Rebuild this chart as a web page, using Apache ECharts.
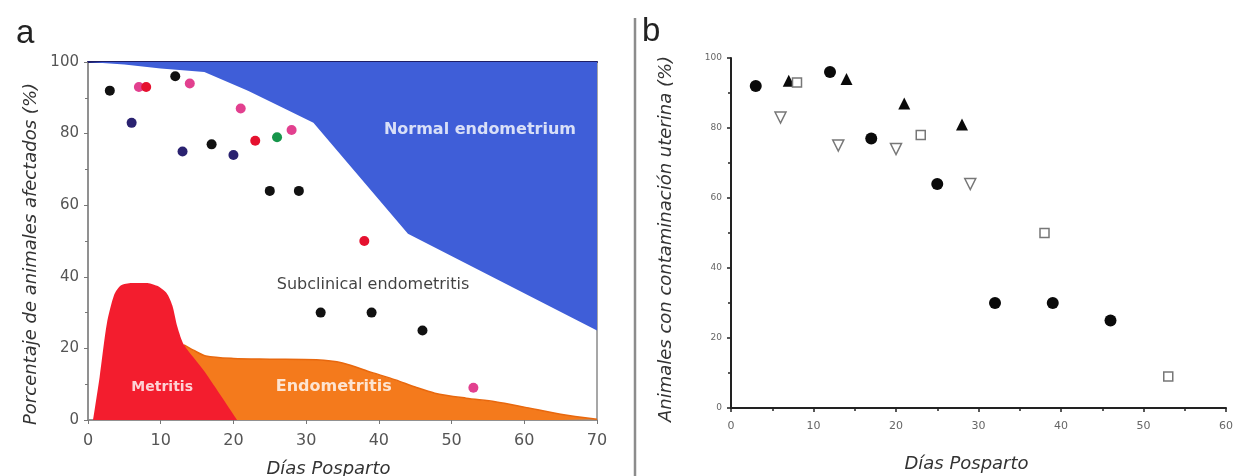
<!DOCTYPE html>
<html>
<head>
<meta charset="utf-8">
<script src="https://cdn.jsdelivr.net/npm/echarts@6/dist/echarts.min.js"></script>
<style>
html,body{margin:0;padding:0;background:#fff;}
#c{width:1239px;height:476px;}
</style>
</head>
<body>
<div id="c"></div>
<script>
// ---------- Panel a data ----------
var normalBoundary = [[0,100],[5,99.3],[10,98.2],[16,97.2],[22,92],[27,87],[31,83],[44,52],[70,25]];
var metritisCurve = [[0.7,0],[1.6,12],[2.6,27],[3.6,35],[4.5,37.6],[6,38.3],[8,38.3],[9.5,37.5],[10.8,35.5],[11.6,32],[12.3,26],[13.2,21],[16,13.6],[20.5,0]];
var endometritisCurve = [[13.2,21],[14.5,19.5],[16.2,17.9],[20,17.2],[25,17],[31.4,16.8],[35,15.9],[39,13.3],[42.3,11.2],[45,9.2],[47.7,7.5],[52,6.1],[56,5.1],[60,3.6],[65,1.6],[70,0.2]];
var blackA   = [[3,92],[12,96],[17,77],[25,64],[29,64],[32,30],[39,30],[46,25]];
var pinkA    = [[7,93],[14,94],[21,87],[28,81],[53,9]];
var redA     = [[8,93],[23,78],[38,50]];
var navyA    = [[6,83],[13,75],[20,74]];
var greenA   = [[26,79]];
var regionLabels = [
  [53.9,81,'Normal endometrium','#fff',true,16],
  [39.2,37.7,'Subclinical endometritis','#111',false,16],
  [10.2,9.2,'Metritis','#fff',true,14],
  [33.8,9.2,'Endometritis','#fff',true,16]
];
var xTicksA = [0,10,20,30,40,50,60,70];
var yTicksA = [0,20,40,60,80,100];

// ---------- Panel b data ----------
var circlesB   = [[3,92],[12,96],[17,77],[25,64],[32,30],[39,30],[46,25]];
var trianglesB = [[7,93.5],[14,94],[21,87],[28,81]];
var invTriB    = [[6,83],[13,75],[20,74],[29,64]];
var squaresB   = [[8,93],[23,78],[38,50],[53,9]];

var chart = echarts.init(document.getElementById('c'), null, {renderer:'canvas'});
var FONT = 'DejaVu Sans, Verdana, sans-serif';
var FONT2 = 'Liberation Sans, Arial, sans-serif';

function labelSeries(){
  return regionLabels.map(function(r){
    return {
      type:'scatter', xAxisIndex:0, yAxisIndex:0, symbolSize:0, silent:true, z:5,
      data:[[r[0], r[1]]],
      label:{show:true, position:'inside', formatter:r[2], color:r[3],
             fontWeight: r[4] ? 'bold':'normal', fontSize:r[5], fontFamily:FONT}
    };
  });
}
function pts(data, color, size){
  return {type:'scatter', xAxisIndex:0, yAxisIndex:0, data:data, symbolSize:size, z:4,
          itemStyle:{color:color, opacity:1}};
}

var option = {
  backgroundColor:'#fff',
  animation:false,
  grid:[
    {left:88, top:62, width:509, height:358, show:true, borderColor:'#8a8a8a', borderWidth:1.5, backgroundColor:'#fff',
     containLabel:false, outerBoundsMode:'none'},
    {left:731, top:58, width:495, height:350, containLabel:false, outerBoundsMode:'none'}
  ],
  xAxis:[
    {type:'value', gridIndex:0, min:0, max:70, interval:10,
     name:'Días Posparto', nameLocation:'middle', nameGap:40,
     nameTextStyle:{fontStyle:'italic', fontSize:18, color:'#333', fontFamily:FONT, padding:[0,28,0,0]},
     axisLine:{show:true, lineStyle:{color:'#8a8a8a', width:1.5}},
     axisTick:{show:true, inside:false, length:4, lineStyle:{color:'#777'}},
     axisLabel:{color:'#555', fontSize:16, margin:13, fontFamily:FONT},
     splitLine:{show:false}},
    {type:'value', gridIndex:0, position:'top', min:0, max:70,
     axisLine:{show:true, lineStyle:{color:'#1e1e66', width:2}},
     axisTick:{show:false}, axisLabel:{show:false}, splitLine:{show:false}},
    {type:'value', gridIndex:1, min:0, max:60, interval:10,
     name:'Días Posparto', nameLocation:'middle', nameGap:47,
     nameTextStyle:{fontStyle:'italic', fontSize:18, color:'#333', fontFamily:FONT, padding:[0,24,0,0]},
     axisLine:{show:true, lineStyle:{color:'#222', width:2}},
     axisTick:{show:true, length:4, lineStyle:{color:'#222', width:1.5}},
     minorTick:{show:true, splitNumber:2, length:3, lineStyle:{color:'#222', width:1.5}},
     axisLabel:{color:'#666', fontSize:11, margin:13, fontFamily:FONT},
     splitLine:{show:false}}
  ],
  yAxis:[
    {type:'value', gridIndex:0, min:0, max:100, interval:20,
     name:'Porcentaje de animales afectados (%)', nameLocation:'middle', nameGap:48,
     nameTextStyle:{fontStyle:'italic', fontSize:18, color:'#333', fontFamily:FONT, padding:[0,26,0,0]},
     axisLine:{show:true, lineStyle:{color:'#8a8a8a', width:1.5}},
     axisTick:{show:true, length:4, lineStyle:{color:'#777'}},
     minorTick:{show:true, splitNumber:2, length:3, lineStyle:{color:'#777'}},
     axisLabel:{color:'#555', fontSize:15, margin:9, fontFamily:FONT},
     splitLine:{show:false}},
    {type:'value', gridIndex:1, min:0, max:100, interval:20,
     name:'Animales con contaminación uterina (%)', nameLocation:'middle', nameGap:56,
     nameTextStyle:{fontStyle:'italic', fontSize:18, color:'#333', fontFamily:FONT, padding:[0,12,0,0]},
     axisLine:{show:true, lineStyle:{color:'#222', width:2}},
     axisTick:{show:true, length:4, lineStyle:{color:'#222', width:1.5}},
     minorTick:{show:true, splitNumber:2, length:3, lineStyle:{color:'#222', width:1.5}},
     axisLabel:{color:'#666', fontSize:9, margin:9, fontFamily:FONT},
     splitLine:{show:false}}
  ],
  graphic:[
    {type:'line', shape:{x1:635, y1:18, x2:635, y2:476}, style:{stroke:'#8c8c8c', lineWidth:2.5}, z:10},
    {type:'text', left:16, top:17, style:{text:'a', fontSize:33, fill:'#222', fontFamily:FONT2}},
    {type:'text', left:642, top:15, style:{text:'b', fontSize:33, fill:'#222', fontFamily:FONT2}}
  ],
  series:[
    {type:'line', xAxisIndex:0, yAxisIndex:0, data:normalBoundary, symbol:'none', z:1,
     lineStyle:{width:0}, areaStyle:{origin:'end', color:'#3f5ed8', opacity:1}},
    {type:'line', xAxisIndex:0, yAxisIndex:0, data:endometritisCurve, symbol:'none', smooth:0.3, z:1,
     lineStyle:{width:1.5, color:'#e8680e'}, areaStyle:{color:'#f47a1c', opacity:1}},
    {type:'line', xAxisIndex:0, yAxisIndex:0, data:metritisCurve, symbol:'none', smooth:0.25, z:2,
     lineStyle:{width:0}, areaStyle:{color:'#f31d2e', opacity:1}},
    pts(blackA, '#111', 10),
    pts(pinkA, '#e2408f', 10),
    pts(redA, '#e5112f', 10),
    pts(navyA, '#2a2270', 10),
    pts(greenA, '#16954a', 10),
    {type:'scatter', xAxisIndex:2, yAxisIndex:1, data:circlesB, symbol:'circle', symbolSize:12, itemStyle:{color:'#0a0a0a', opacity:1}},
    {type:'scatter', xAxisIndex:2, yAxisIndex:1, data:trianglesB, symbol:'triangle', symbolSize:12, itemStyle:{color:'#0a0a0a', opacity:1}},
    {type:'scatter', xAxisIndex:2, yAxisIndex:1, data:invTriB, symbol:'triangle', symbolRotate:180, symbolSize:11,
     itemStyle:{color:'#fff', borderColor:'#777', borderWidth:1.5, opacity:1}},
    {type:'scatter', xAxisIndex:2, yAxisIndex:1, data:squaresB, symbol:'rect', symbolSize:9,
     itemStyle:{color:'#fff', borderColor:'#777', borderWidth:1.5, opacity:1}}
  ].concat(labelSeries())
};
chart.setOption(option);
</script>
</body>
</html>
